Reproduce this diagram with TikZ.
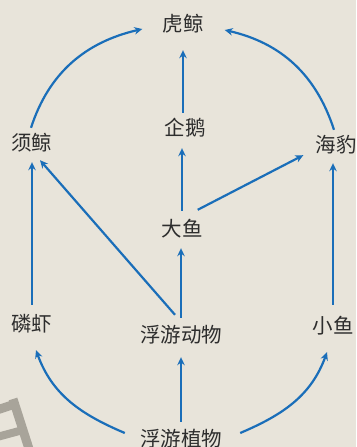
\documentclass[tikz,border=0pt]{standalone}
\usepackage{fontspec}
\newfontfamily\cjk{Noto Sans CJK SC}
\usetikzlibrary{arrows.meta,calc}
\definecolor{bgc}{RGB}{232,228,218}
\definecolor{arr}{RGB}{26,110,185}
\definecolor{txt}{RGB}{45,45,45}
\definecolor{wm}{RGB}{168,164,154}
\begin{document}
\begin{tikzpicture}[x=1pt,y=-1pt,
  lbl/.style={font=\cjk\fontsize{20.5}{20.5}\selectfont, text=txt, inner sep=0pt, text height=16pt, text depth=2pt},
  link/.style={draw=arr, line width=2.2pt, -{Stealth[length=8pt,width=7.5pt]}}]
\fill[bgc] (0,0) rectangle (356,447);
\useasboundingbox (0,0) rectangle (356,447);
% watermark fragment
\draw[wm, line width=9pt] (-3,410) -- (18,403);
\draw[wm, line width=9pt] (13,399) -- (30,452);
\draw[wm, line width=8pt] (-3,437) -- (23,430);
% nodes
\node[lbl] (hj) at (183,24) {虎鲸};
\node[lbl] (qe) at (185,128) {企鹅};
\node[lbl] (xj) at (32,143) {须鲸};
\node[lbl] (hb) at (336,145) {海豹};
\node[lbl] (dy) at (182,229) {大鱼};
\node[lbl] (lx) at (32,324) {磷虾};
\node[lbl] (fd) at (181,335) {浮游动物};
\node[lbl] (xy) at (333,326) {小鱼};
\node[lbl] (fz) at (181,439) {浮游植物};
% straight connectors
\draw[link, shorten <=6pt, shorten >=17pt] (hj.south |- qe.north) -- (hj.south);
\draw[link, shorten <=9pt, shorten >=11pt] (dy.north) -- (dy.north |- qe.south);
\draw[link, shorten <=8pt, shorten >=10pt] (fd.north) -- (fd.north |- dy.south);
\draw[link, shorten <=8pt, shorten >=13pt] (fz.north) -- (fd.south);
\draw[link, shorten <=10pt, shorten >=10pt] (lx.north) -- (xj.south);
\draw[link, shorten <=12pt, shorten >=9pt] (xy.north) -- (xy.north |- hb.south);
\draw[link] ($(fd.north)+(-6,-11)$) -- ($(xj.south)+(8,8)$);
\draw[link] ($(dy.north east)+(-5,-10)$) -- ($(hb.south west)+(-12,1)$);
% curved connectors
\draw[link] ($(xj.north)+(-1,-6)$) to[out=72,in=193] ($(hj.west)+(-20,5)$);
\draw[link] ($(hb.north)+(-2,-6)$) to[out=108,in=-13] ($(hj.east)+(21,6)$);
\draw[link] ($(fz.west)+(-15,-6)$) to[out=157,in=-70] ($(lx.south)+(4,17)$);
\draw[link] ($(fz.east)+(18,-6)$) to[out=23,in=250] ($(xy.south)+(-6,17)$);
\end{tikzpicture}
\end{document}
